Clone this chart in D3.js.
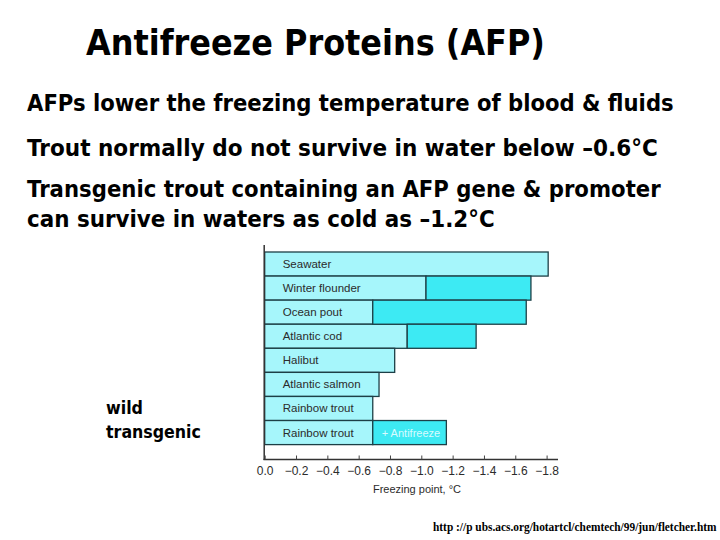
<!DOCTYPE html>
<html><head><meta charset="utf-8">
<script src="https://cdn.jsdelivr.net/npm/d3@7"></script>
<style>html,body{margin:0;padding:0;background:#fff;}svg{display:block;}</style>
</head><body>
<svg id="c" width="720" height="540"></svg>
<script>
const categories = ["Seawater","Winter flounder","Ocean pout","Atlantic cod","Halibut","Atlantic salmon","Rainbow trout","Rainbow trout"];
const baseFreeze = [-1.81,-1.03,-0.69,-0.91,-0.83,-0.73,-0.69,-0.69];
const afpFreeze  = [null,-1.70,-1.67,-1.35,null,null,null,-1.16];
const afpNotes   = ["","","","","","","","+ Antifreeze"];
const tickValues = [0,-0.2,-0.4,-0.6,-0.8,-1.0,-1.2,-1.4,-1.6,-1.8];
const title = "Antifreeze Proteins (AFP)";
const bullets = ["AFPs lower the freezing temperature of blood & fluids","Trout normally do not survive in water below \u20130.6\u00b0C","Transgenic trout containing an AFP gene & promoter","can survive in waters as cold as \u20131.2\u00b0C"];
const sideLabels = ["wild","transgenic"];
const axisTitle = "Freezing point, \u00b0C";
const source = "http ://p ubs.acs.org/hotartcl/chemtech/99/jun/fletcher.htm";

const svg = d3.select("#c");
const bold = "'DejaVu Sans', Verdana, sans-serif";

// text squeezed horizontally to a target width via a transform
function fitText(t, x0, y0, size, w, family, weight){
  const el = svg.append("text").attr("x",0).attr("y",0).attr("font-family",family).attr("font-weight",weight)
    .attr("font-size",size).attr("fill","#000").text(t);
  const nat = el.node().getComputedTextLength();
  el.attr("transform",`translate(${x0},${y0}) scale(${w/nat},1)`);
  return el;
}

fitText(title,86,55,35,459,bold,"bold");
const bl = [{y:111,w:647},{y:156,w:631},{y:197,w:634},{y:227,w:468}];
bullets.forEach((t,i)=>fitText(t,27,bl[i].y,23,bl[i].w,bold,"bold"));
const sl = [{y:414,w:37},{y:438,w:95}];
sideLabels.forEach((t,i)=>fitText(t,106,sl[i].y,17,sl[i].w,bold,"bold"));

const x = d3.scaleLinear().domain([0,-1.8]).range([264.7,546.6]);
const y = d3.scaleBand().domain(d3.range(categories.length)).range([252,444.6]).padding(0);

const light = "#a6f6fb", dark = "#3deaf3", edge = "#1d3f46";
const g = svg.append("g");
const rows = categories.map((c,i)=>({c,i,b:baseFreeze[i],a:afpFreeze[i],n:afpNotes[i]}));

g.selectAll("rect.base").data(rows).join("rect").attr("class","base")
  .attr("x",x(0)).attr("y",d=>y(d.i)).attr("width",d=>x(d.b)-x(0)).attr("height",y.bandwidth())
  .attr("fill",light).attr("stroke",edge).attr("stroke-width",1.3);
g.selectAll("rect.afp").data(rows.filter(d=>d.a!=null)).join("rect").attr("class","afp")
  .attr("x",d=>x(d.b)).attr("y",d=>y(d.i)).attr("width",d=>x(d.a)-x(d.b)).attr("height",y.bandwidth())
  .attr("fill",dark).attr("stroke",edge).attr("stroke-width",1.3);
g.selectAll("text.cat").data(rows).join("text").attr("class","cat")
  .attr("x",x(0)+18).attr("y",d=>y(d.i)+y.bandwidth()/2+4).attr("font-family","'Liberation Sans', Arial, sans-serif")
  .attr("font-size",11.5).attr("fill","#2b2b2b").text(d=>d.c);
g.selectAll("text.note").data(rows.filter(d=>d.n)).join("text").attr("class","note")
  .attr("x",d=>x(d.b)+9).attr("y",d=>y(d.i)+y.bandwidth()/2+4).attr("font-family","'Liberation Sans', Arial, sans-serif")
  .attr("font-size",11).attr("fill","#d8fbff").text(d=>d.n);

// axis frame
svg.append("line").attr("x1",264.2).attr("x2",264.2).attr("y1",245).attr("y2",460).attr("stroke","#333").attr("stroke-width",1.5);
svg.append("line").attr("x1",263.5).attr("x2",558).attr("y1",459.5).attr("y2",459.5).attr("stroke","#333").attr("stroke-width",1.5);

const axis = d3.axisBottom(x).tickValues(tickValues).tickSizeInner(-4).tickSizeOuter(0).tickPadding(7)
  .tickFormat(d=>d===0?"0.0":d3.format(".1f")(d).replace("-","\u2212"));
const ax = svg.append("g").attr("transform","translate(0,459.5)").call(axis);
ax.select(".domain").remove();
ax.selectAll(".tick line").attr("stroke","#444").attr("stroke-width",1);
ax.selectAll(".tick text").attr("font-family","'Liberation Sans', Arial, sans-serif").attr("font-size",12).attr("fill","#2b2b2b");

svg.append("text").attr("x",417).attr("y",493).attr("text-anchor","middle").attr("font-family","'Liberation Sans', Arial, sans-serif")
  .attr("font-size",11).attr("fill","#2b2b2b").text(axisTitle);

fitText(source,433,531,12.5,284,"'Liberation Serif', 'Times New Roman', serif","bold");
</script>
</body></html>
